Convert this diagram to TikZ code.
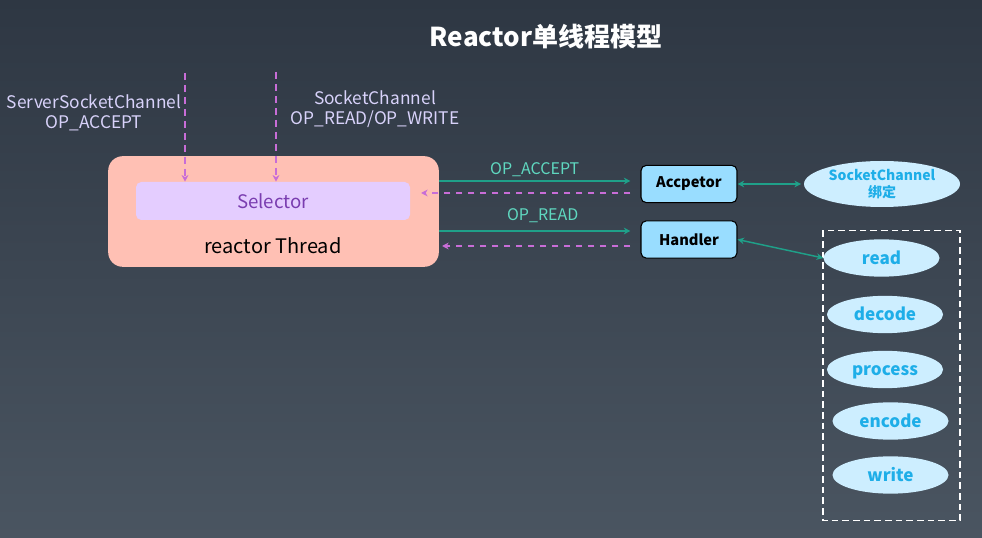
\documentclass[tikz,border=0pt]{standalone}
\usepackage{fontspec}
\setmainfont{Noto Sans CJK SC}
\usetikzlibrary{arrows.meta,shapes.geometric}
\definecolor{bgtop}{HTML}{2E3743}
\definecolor{bgbot}{HTML}{4A5561}
\definecolor{salmon}{HTML}{FFC0B4}
\definecolor{selfill}{HTML}{E4CDFF}
\definecolor{seltext}{HTML}{7A3DB0}
\definecolor{lbltext}{HTML}{D8D2FA}
\definecolor{violet}{HTML}{C86DD7}
\definecolor{tealline}{HTML}{1FA089}
\definecolor{teallbl}{HTML}{5FD8C0}
\definecolor{boxblue}{HTML}{99DDFF}
\definecolor{ellfill}{HTML}{CDEEFF}
\definecolor{elltext}{HTML}{1EAEE8}
\tikzset{
  lbl/.style={text=lbltext,font=\fontsize{13pt}{15pt}\selectfont,align=center,inner sep=0pt},
  glbl/.style={text=teallbl,font=\fontsize{12pt}{14pt}\selectfont,inner sep=0pt},
  vdash/.style={draw=violet,line width=1.1pt,dash pattern=on 5pt off 4pt,-{Stealth[length=5pt,width=5pt]}},
  gline/.style={draw=tealline,line width=1.1pt,-{Stealth[length=5pt,width=5pt]}},
  gboth/.style={draw=tealline,line width=1.1pt,{Stealth[length=5pt,width=5pt]}-{Stealth[length=5pt,width=5pt]}},
  bluebox/.style={draw=black,line width=0.8pt,fill=boxblue,rounded corners=4pt,minimum width=72pt,minimum height=28pt,inner sep=0pt,font=\fontsize{11pt}{13pt}\selectfont\bfseries},
  ell/.style={ellipse,fill=ellfill,inner sep=0pt,minimum width=87pt,minimum height=28pt,text=elltext,font=\fontsize{12.8pt}{15pt}\selectfont\bfseries},
  pell/.style={ell,text height=10.5pt,text depth=1.3pt},
}
\begin{document}
\begin{tikzpicture}[x=0.75pt,y=-0.75pt]
\shade[top color=bgtop,bottom color=bgbot] (0,0) rectangle (982,538);
\useasboundingbox (0,0) rectangle (982,538);
\node[text=white,font=\fontsize{19.5pt}{22pt}\selectfont\bfseries] (title) at (546,37) {Reactor单线程模型};
% reactor thread box
\node[fill=salmon,rounded corners=11pt,minimum width=248pt,minimum height=83pt,inner sep=0pt] (rt) at (273.5,211.5) {};
\node[fill=selfill,rounded corners=4pt,minimum width=205.5pt,minimum height=28.5pt,inner sep=0pt,text=seltext,font=\fontsize{14pt}{16pt}\selectfont] (sel) at (273,201) {Selector};
\node[text=black,font=\fontsize{15pt}{17pt}\selectfont,inner sep=0pt] (rtl) at (273,246) {reactor Thread};
% top labels
\node[lbl] (ssc) at (94,113) {ServerSocketChannel\\OP\_ACCEPT};
\node[lbl] (sc) at (375,109.5) {SocketChannel\\OP\_READ/OP\_WRITE};
\coordinate (t1) at (185,73);
\coordinate (t2) at (276,72);
\draw[vdash] (t1) -- (sel.north -| t1);
\draw[vdash] (t2) -- (sel.north -| t2);
% right boxes
\node[bluebox] (acc) at (689,184) {Accpetor};
\node[bluebox] (hdl) at (689,239.5) {Handler};
\node[ell,minimum width=117pt,minimum height=34.5pt,font=\fontsize{10.5pt}{12.5pt}\selectfont\bfseries,align=center] (scb) at (882,184) {SocketChannel\\绑定};
% arrows
\coordinate (ra1) at (439,181);
\coordinate (ra2) at (439,231);
\draw[gline] (ra1) -- ([xshift=-7.5pt]acc.west |- ra1) node[glbl,midway,above=3pt] (la1) {OP\_ACCEPT};
\coordinate (da1) at (421,193);
\draw[vdash] ([xshift=-7.5pt]acc.west |- da1) -- (da1);
\draw[gline] (ra2) -- ([xshift=-7.5pt]hdl.west |- ra2) node[glbl,midway,above=6pt,xshift=6pt] (la2) {OP\_READ};
\coordinate (da2) at (442,246);
\draw[vdash] ([xshift=-7.5pt]hdl.west |- da2) -- (da2);
\draw[gboth] (acc.east) -- ([xshift=-2pt]scb.west);
% pipeline
\draw[white,line width=1pt,dash pattern=on 5pt off 3pt] (823,230.5) rectangle (960,520.5);
\node[pell] (rd) at (881.5,258) {read};
\node[pell] (dec) at (885,314.5) {decode};
\node[pell] (proc) at (885,369.5) {process};
\node[pell] (enc) at (890.5,421) {encode};
\node[pell] (wr) at (890.5,475) {write};
\draw[gboth] (hdl.east) -- (rd.west);
\end{tikzpicture}
\end{document}
